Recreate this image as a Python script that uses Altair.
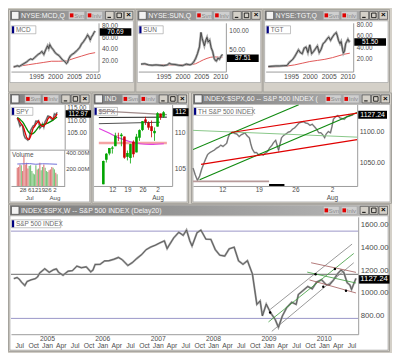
import altair as alt
import pandas as pd

# ============================ DATA ============================
# --- top row: long-term charts (x = year) ---
mcd_year = [1989.0, 1989.5, 1990.0, 1990.5, 1991.0, 1991.5, 1992.0, 1992.5, 1993.0, 1993.5, 1994.0, 1994.5,
            1995.0, 1995.5, 1996.0, 1996.5, 1997.0, 1997.5, 1998.0, 1998.3, 1998.6, 1999.0, 1999.5, 2000.0,
            2000.5, 2001.0, 2001.5, 2002.0, 2002.5, 2003.0, 2003.3, 2003.6, 2004.0, 2004.5, 2005.0, 2005.5,
            2006.0, 2006.5, 2007.0, 2007.5, 2008.0, 2008.3, 2008.6, 2009.0, 2009.3, 2009.6, 2010.0, 2010.3, 2010.6]
mcd_price = [8, 9, 10, 9, 11, 13, 15, 17, 20, 22, 21, 24, 27, 30, 32, 35, 30, 38, 45, 40, 47, 42, 38, 33,
             30, 28, 24, 20, 18, 14, 16, 22, 27, 30, 32, 35, 38, 42, 48, 52, 57, 60, 64, 60, 55, 60, 64, 68, 70.69]
mcd_ma_year = [1989, 1991, 1993, 1995, 1997, 1999, 2001, 2003, 2005, 2007, 2009, 2010.6]
mcd_ma = [8, 10, 12, 14, 16, 18, 18, 18.5, 23, 27, 31, 33]

sun_year = [1989, 1990, 1991, 1992, 1993, 1994, 1995, 1996, 1996.5, 1997, 1998, 1999, 2000, 2000.5, 2001,
            2001.5, 2002, 2002.5, 2003, 2003.5, 2004, 2004.5, 2004.9, 2005.2, 2005.5, 2005.8, 2006.2, 2006.5,
            2006.8, 2007.2, 2007.6, 2008.0, 2008.4, 2008.7, 2009.0, 2009.4, 2009.8, 2010.2, 2010.6]
sun_price = [12, 13, 10, 9, 10, 9, 8, 10, 14, 12, 11, 9, 8, 10, 12, 11, 10, 12, 18, 27, 40, 57, 95, 80, 70,
             60, 75, 82, 70, 75, 55, 45, 27, 22, 20, 28, 25, 32, 37.51]
sun_ma_year = [1989, 1992, 1995, 1998, 2001, 2002.5, 2003.5, 2004.5, 2005.5, 2006.5, 2007.5, 2008.5, 2009.5, 2010.6]
sun_ma = [11, 10, 10, 10, 10, 11, 13, 18, 23, 27, 30, 31, 30, 30]

tgt_year = [1989, 1990, 1991, 1992, 1993, 1994, 1994.5, 1995.5, 1996, 1997, 1997.5, 1998, 1998.5, 1999,
            1999.5, 2000, 2000.5, 2001, 2001.5, 2002, 2002.5, 2003, 2003.5, 2004, 2004.5, 2005, 2005.5, 2006,
            2006.5, 2007, 2007.3, 2007.6, 2008, 2008.3, 2008.7, 2008.9, 2009.2, 2009.5, 2009.8, 2010.1, 2010.4, 2010.6]
tgt_price = [5, 5.5, 6, 6, 6.5, 7, 12, 18, 23, 35, 30, 28, 38, 40, 30, 44, 28, 32, 37, 42, 30, 36, 46, 49,
             54, 58, 52, 58, 63, 66, 60, 52, 46, 50, 35, 29, 33, 46, 50, 54, 50, 51.5]
tgt_ma_year = [1989, 1992, 1994, 1996, 1998, 2000, 2002, 2004, 2006, 2008, 2009, 2010.6]
tgt_ma = [4.5, 5, 6, 8, 11, 14, 16, 18, 21, 25, 27, 29]

top_year_ticks = [1995, 2000, 2005, 2010]

# --- SPY daily (trading-day index, 0 = Jun 28 2010) ---
spy_day = [-4, -3, -2, -1, 0, 1, 2, 3, 4, 5, 6, 7, 8, 9, 10, 11, 12, 13, 14, 15, 16, 17, 18, 19, 20, 21, 22, 23, 24, 25, 26]
spy_close = [110.8, 109.5, 107.6, 108.3, 107.8, 104.2, 103.0, 102.6, 102.2, 102.8, 105.9, 106.9, 107.8, 107.9,
             109.6, 109.5, 109.8, 106.8, 107.4, 108.6, 107.2, 109.4, 110.3, 111.6, 111.5, 110.8, 110.2, 110.3,
             112.4, 112.0, 112.97]
spy_ma_red = [110.9, 110.2, 109.3, 108.5, 107.9, 106.7, 105.0, 103.3, 102.6, 102.5, 103.6, 105.2, 106.9, 107.5,
              108.4, 109.0, 109.6, 108.7, 107.9, 107.6, 107.7, 108.4, 109.0, 110.4, 111.1, 111.3, 110.8, 110.4,
              111.0, 111.5, 112.4]
spy_ma_green = [111.0, 110.7, 110.3, 109.8, 109.3, 108.5, 107.6, 106.7, 105.8, 105.1, 104.7, 104.6, 104.8, 105.3,
                105.9, 106.6, 107.3, 107.7, 108.0, 108.2, 108.3, 108.4, 108.6, 108.8, 109.1, 109.4, 109.7, 110.0,
                110.4, 110.8, 111.2]
spy_volume = [220, 230, 260, 250, 180, 370, 260, 280, 210, 240, 250, 180, 150, 140, 250, 200, 210, 280, 190,
              230, 260, 220, 180, 170, 190, 200, 230, 220, 200, 160, 140]
spy_dir = ["d", "d", "d", "u", "d", "d", "d", "d", "d", "u", "u", "u", "u", "u", "u", "d", "u", "d", "u",
           "u", "d", "u", "u", "u", "d", "d", "d", "u", "u", "d", "u"]
spy_vavg_day = [-4, 5, 10, 15, 20, 26]
spy_vavg = [265, 270, 262, 268, 266, 262]
spy_tick_days = [0, 5, 9, 14, 19, 24]
spy_tick_labels = ["28", "6", "12", "19", "26", "2"]

# --- $SPX daily candles (trading-day index, 0 = Jul 12 2010) ---
spxd_day = [-3, -2, -1, 0, 1, 2, 3, 4, 5, 6, 7, 8, 9, 10, 11, 12, 13, 14, 15, 16, 17]
spxd_open = [1028.5, 1062.0, 1070.5, 1077.2, 1080.6, 1095.6, 1094.5, 1093.9, 1066.0, 1064.5, 1086.7, 1072.1,
             1092.2, 1102.9, 1117.4, 1112.8, 1108.1, 1098.4, 1107.5, 1125.3, 1121.1]
spxd_high = [1060.9, 1071.3, 1078.2, 1080.8, 1099.1, 1099.1, 1098.7, 1093.9, 1074.7, 1083.9, 1088.5, 1097.5,
             1103.7, 1115.0, 1120.9, 1114.7, 1115.9, 1106.4, 1127.3, 1125.4, 1128.8]
spxd_low = [1028.3, 1058.2, 1068.1, 1070.5, 1080.6, 1087.7, 1080.5, 1063.3, 1061.1, 1056.9, 1065.3, 1072.1,
            1087.9, 1101.3, 1109.8, 1103.1, 1092.8, 1088.0, 1107.5, 1116.8, 1119.5]
spxd_close = [1060.3, 1070.3, 1078.0, 1078.8, 1095.3, 1095.2, 1096.5, 1064.9, 1071.3, 1083.5, 1069.6, 1093.7,
              1102.7, 1115.0, 1113.8, 1106.1, 1101.5, 1101.6, 1125.9, 1120.5, 1127.2]
spxd_ma_day = [-4.4, -1.3, 2.2, 5.7, 9.2, 12.7, 17.1]
spxd_ma = [1105, 1099, 1092, 1087, 1084, 1083, 1084]
spxd_seg_kind = ["brown", "black", "dgray", "salmon"]
spxd_seg_t0 = [-4.5, -4.5, -4.5, -4.5]
spxd_seg_v0 = [1129, 1120, 1111.5, 1085]
spxd_seg_t1 = [18.1, 18.1, 15.8, 18.1]
spxd_seg_v1 = [1124, 1120.5, 1113.5, 1085]
day_tick_days = [0, 5, 10, 15]
day_tick_labels = ["12", "19", "26", "2"]

# --- $SPX 60-minute (trading days since Jul 12 2010) ---
spx60_t = [-4.0, -3.7, -3.4, -3.1, -2.8, -2.6, -2.3, -2.0, -1.7, -1.4, -1.1, -0.8, -0.5, -0.2,
           0.1, 0.4, 0.6, 0.8, 1.0, 1.2, 1.4, 1.7, 2.0, 2.3, 2.6, 2.8, 3.1, 3.4, 3.7, 3.9,
           4.1, 4.4, 4.7, 5.0, 5.3, 5.6, 5.9, 6.2, 6.5, 6.8, 7.0, 7.3, 7.5, 7.7, 7.9,
           8.1, 8.4, 8.7, 9.0, 9.3, 9.6, 9.9, 10.2, 10.5, 10.8, 11.1, 11.4, 11.7,
           12.0, 12.3, 12.6, 12.9, 13.2, 13.5, 13.8, 14.0, 14.2, 14.5, 14.8,
           15.0, 15.2, 15.5, 15.8, 16.1, 16.4, 16.7, 17.0, 17.3, 17.6, 17.9]
spx60_v = [1041, 1030, 1021, 1028, 1040, 1046, 1055, 1063, 1066, 1068, 1070, 1073, 1075, 1078,
           1076, 1079, 1081, 1090, 1096, 1098, 1099, 1097, 1096, 1092, 1095, 1096, 1098, 1093, 1090, 1080,
           1072, 1066, 1066, 1062, 1064, 1062, 1065, 1068, 1074, 1078, 1082, 1086, 1078, 1070, 1080,
           1090, 1094, 1096, 1099, 1100, 1104, 1106, 1110, 1114, 1115, 1116, 1114, 1113,
           1110, 1112, 1108, 1104, 1098, 1098, 1094, 1090, 1096, 1100, 1098,
           1108, 1120, 1124, 1126, 1122, 1121, 1120, 1124, 1125, 1126, 1127.24]
h_seg_kind = ["green", "green", "ltgreen", "red", "red", "mauve", "black"]
h_seg_t0 = [-4.0, -3.1, -4.0, 1.2, -2.9, -4.0, 6.4]
h_seg_v0 = [1071, 1022, 1102, 1098.5, 1047, 1019.5, 1013.5]
h_seg_t1 = [10.45, 18.45, 18.45, 18.45, 18.45, 6.4, 8.5]
h_seg_v1 = [1143.5, 1131, 1091, 1130, 1087, 1019.5, 1013.5]

# --- $SPX weekly (x = year) ---
spxw_t = [2004.40, 2004.46, 2004.50, 2004.54, 2004.60, 2004.64, 2004.71, 2004.79, 2004.83, 2004.87, 2004.96,
          2005.04, 2005.12, 2005.17, 2005.21, 2005.29, 2005.38, 2005.46, 2005.54, 2005.62, 2005.71, 2005.79,
          2005.83, 2005.87, 2005.96, 2006.04, 2006.12, 2006.21, 2006.29, 2006.36, 2006.46, 2006.54, 2006.62,
          2006.71, 2006.79, 2006.87, 2006.96, 2007.04, 2007.12, 2007.17, 2007.21, 2007.29, 2007.38, 2007.46,
          2007.52, 2007.58, 2007.62, 2007.71, 2007.78, 2007.87, 2007.96, 2008.04, 2008.12, 2008.21, 2008.29,
          2008.38, 2008.46, 2008.54, 2008.62, 2008.71, 2008.76, 2008.79, 2008.85, 2008.89, 2008.96, 2009.04,
          2009.12, 2009.18, 2009.25, 2009.33, 2009.42, 2009.50, 2009.54, 2009.62, 2009.71, 2009.79, 2009.87,
          2009.96, 2010.04, 2010.10, 2010.17, 2010.25, 2010.31, 2010.36, 2010.42, 2010.47, 2010.50, 2010.54, 2010.58]
spxw_v = [1125, 1135, 1120, 1095, 1065, 1100, 1114, 1125, 1140, 1175, 1212,
          1180, 1203, 1210, 1180, 1155, 1190, 1195, 1234, 1220, 1228, 1185,
          1200, 1249, 1250, 1280, 1282, 1295, 1310, 1290, 1240, 1265, 1300,
          1335, 1378, 1400, 1418, 1438, 1455, 1387, 1420, 1482, 1530, 1503,
          1550, 1455, 1410, 1526, 1549, 1470, 1468, 1378, 1330, 1322, 1385,
          1400, 1280, 1250, 1282, 1166, 1000, 900, 930, 800, 903, 826,
          770, 700, 798, 873, 919, 900, 987, 1020, 1057, 1036, 1096,
          1115, 1073, 1070, 1110, 1169, 1200, 1180, 1090, 1070, 1030, 1080, 1127.24]
wk_level_kind = ["lav", "gray", "lav"]
wk_level_v = [1540, 1163, 778]
wk_seg_kind = ["gray", "green", "gray", "maroon", "green", "maroon"]
wk_seg_t0 = [2009.03, 2009.00, 2009.06, 2009.77, 2009.70, 2009.74]
wk_seg_v0 = [856, 747, 665, 1264, 1182, 1114]
wk_seg_t1 = [2010.51, 2010.54, 2010.54, 2010.58, 2010.58, 2010.58]
wk_seg_v1 = [1427, 1345, 1264, 1180, 1087, 1000]
wk_dot_t = [2009.03, 2009.85, 2009.99, 2010.20, 2010.40]
wk_dot_v = [829, 1163, 1055, 1210, 1019]
wk_ticks = [2004.5, 2004.75, 2005.0, 2005.25, 2005.5, 2005.75, 2006.0, 2006.25, 2006.5, 2006.75,
            2007.0, 2007.25, 2007.5, 2007.75, 2008.0, 2008.25, 2008.5, 2008.75, 2009.0, 2009.25,
            2009.5, 2009.75, 2010.0, 2010.25, 2010.5]
month_names = ["Jan", "Apr", "Jul", "Oct"]

# ============================ STYLE ============================
FONT = "Liberation Sans"
FRAME = "#d4d0c8"
LBL = "#4c4c4c"
ONE = pd.DataFrame({"k": [0]})
TITLE_GRAD = {"gradient": "linear", "x1": 0, "x2": 1, "y1": 0, "y2": 0,
              "stops": [{"offset": 0, "color": "#7c7c7c"}, {"offset": 1, "color": "#b8b8b8"}]}
AXIS = dict(grid=False, ticks=False, domainColor="#9c9c9c", domainWidth=1, labelFont=FONT,
            labelColor=LBL, labelOverlap=False, labelFlush=False, zindex=1, title=None)


def js_list(items):
    return "[" + ",".join(f"'{s}'" if isinstance(s, str) else str(s) for s in items) + "]"


def frame_layers(W, H, L, T, R, B, title, legend, legend_w, white_pad):
    b = alt.Chart(ONE)
    x0, y0, x1, y1 = -L, -T, W + R, H + B
    out = []

    def rect(xa, xb, ya, yb, **kw):
        out.append(b.mark_rect(**kw).encode(x=alt.value(xa), x2=alt.value(xb),
                                            y=alt.value(ya), y2=alt.value(yb)))

    def label(xa, ya, s, size, color, align="left", weight="normal", limit=0):
        kw = dict(text=s, font=FONT, fontSize=size, color=color, align=align,
                  baseline="middle", fontWeight=weight)
        if limit:
            kw["limit"] = limit
            kw["ellipsis"] = " "
        out.append(b.mark_text(**kw).encode(x=alt.value(xa), y=alt.value(ya)))

    rect(x0 + 0.5, x1 - 0.5, y0 + 0.5, y1 - 0.5, fill=FRAME, stroke="#a4a29c", strokeWidth=1)
    rect(x0 + 2, x1 - 2, y0 + 12, H + white_pad, fill="white", stroke="#9a9a9a", strokeWidth=0.6)
    rect(x0 + 2, x1 - 2, y0 + 1.5, y0 + 11.5, fill=TITLE_GRAD)
    rect(x0 + 3.5, x0 + 11, y0 + 2.5, y0 + 10.5, fill="#f2f2f2", stroke="#3a3a3a", strokeWidth=0.6)
    buttons = [(x1 - 67, x1 - 51, "Svn"), (x1 - 49, x1 - 33, "Inlv")]
    buttons = [bt for bt in buttons if bt[0] >= x0 + 17]
    first_button = buttons[0][0] if buttons else x1 - 30
    label(x0 + 13, y0 + 6.8, title, 7, "#f6f6f6", limit=first_button - (x0 + 13) - 1)
    for bx0, bx1, s in buttons:
        rect(bx0, bx1, y0 + 2.5, y0 + 10.5, fill="#cfcfcf", stroke="#a0a0a0", strokeWidth=0.5)
        rect(bx0 + 1.2, bx0 + 4.8, y0 + 4.5, y0 + 8.5, fill="#e00000")
        label(bx0 + 5.5, y0 + 6.8, s, 6, "#8a8a8a")
    for bx0, kind in [(x1 - 30, "min"), (x1 - 20.5, "max"), (x1 - 11, "close")]:
        rect(bx0, bx0 + 8.5, y0 + 2.5, y0 + 10.5, fill=FRAME, stroke="#404040", strokeWidth=0.6)
        if kind == "min":
            rect(bx0 + 2, bx0 + 5.5, y0 + 8, y0 + 9, fill="black")
        elif kind == "max":
            rect(bx0 + 2, bx0 + 6.5, y0 + 4.2, y0 + 8.8, fill="white", fillOpacity=0,
                 stroke="black", strokeWidth=0.8)
        else:
            label(bx0 + 4.25, y0 + 6.5, "×", 8, "black", align="center", weight="bold")
    rect(0.5, legend_w, 3, 11, fill="white", stroke="#9a9a9a", strokeWidth=0.6)
    rect(1, 3.2, 3.5, 10.5, fill="#000080")
    label(5, 7.2, legend, 6.5, "#6a6a6a")
    return out


def last_box(value_df, Y, xc, width, size, fmt=None, textfield=None, dy=0, thick=8):
    box = alt.Chart(value_df).mark_tick(color="black", thickness=thick, size=width, orient="horizontal",
                                        opacity=1, yOffset=dy).encode(x=alt.value(xc), y=Y)
    t = alt.Text(textfield) if textfield else alt.Text("v:Q", format=fmt)
    txt = alt.Chart(value_df).mark_text(color="white", font=FONT, fontSize=size, align="center",
                                        baseline="middle", yOffset=dy).encode(x=alt.value(xc), y=Y, text=t)
    return [box, txt]


# ============================ TOP ROW ============================
def long_panel(years, price, ma_years, ma, ydom, yvals, legend, title, dy):
    W, H, L, T = 88, 49, 3, 14
    R, B = 128 - L - W, 84 - T - H
    xs = alt.Scale(domain=[1988.3, 2011.5], nice=False, zero=False)
    ys = alt.Scale(domain=ydom, nice=False, zero=False)
    X = alt.X("t:Q", scale=xs, axis=alt.Axis(values=top_year_ticks, format="d", labelFontSize=6.8,
                                             labelPadding=2, **AXIS))
    Y = alt.Y("v:Q", scale=ys, axis=alt.Axis(values=yvals, format=".2f", orient="right", labelFontSize=6.4,
                                             labelPadding=3, **AXIS))
    pdf = pd.DataFrame({"t": years, "v": price})
    mdf = pd.DataFrame({"t": ma_years, "v": ma})
    last = pd.DataFrame({"v": [price[-1]]})
    layers = frame_layers(W, H, L, T, R, B, title, legend, 25, 11)
    layers += [
        alt.Chart(mdf).mark_line(color="#e05858", strokeWidth=1).encode(X, Y),
        alt.Chart(pdf).mark_line(color="#a8a8a8", strokeWidth=2.4).encode(X, Y),
        alt.Chart(pdf).mark_line(color="#262626", strokeWidth=0.7).encode(X, Y),
    ]
    layers += last_box(last, Y, W + 17, 32, 6.5, fmt=".2f", dy=dy, thick=7.5)
    return alt.layer(*layers).properties(width=W, height=H)


mcd = long_panel(mcd_year, mcd_price, mcd_ma_year, mcd_ma, [0, 85], [20, 40, 60, 80], "MCD",
                 "NYSE:MCD,Q -- M", 1.0)
sun = long_panel(sun_year, sun_price, sun_ma_year, sun_ma, [-7.5, 120], [50, 100], "SUN",
                 "NYSE:SUN,Q -- S", 4)
tgt = long_panel(tgt_year, tgt_price, tgt_ma_year, tgt_ma, [-4, 83.5], [20, 40, 60, 80], "TGT",
                 "NYSE:TGT,Q -- T", 1.3)


# ============================ SPY ============================
def spy_panel():
    W, H, L, T = 54, 82, 3, 12
    R, B = 84 - L - W, 112 - T - H
    xs = alt.Scale(domain=[-5, 28], nice=False, zero=False)
    expr = (f"[{js_list(spy_tick_labels)}[indexof({js_list(spy_tick_days)}, datum.value)], "
            "datum.value == 5 ? 'Jul' : (datum.value == 24 ? 'Aug' : '')]")
    xa = alt.Axis(values=spy_tick_days, labelExpr=expr, labelFontSize=6.2, labelLineHeight=7.5,
                  labelPadding=1, **AXIS)
    X = alt.X("d:Q", scale=xs, axis=xa)
    ps = alt.Scale(domain=[98.7, 116.1], range=[45, 0], nice=False, zero=False)
    Yp = alt.Y("v:Q", scale=ps, axis=alt.Axis(values=[105, 110, 115], format=".2f", orient="right",
                                               labelFontSize=6.5, labelPadding=2, **AXIS))
    vs = alt.Scale(domain=[0, 420], range=[82, 47], nice=False, zero=False)
    Yv = alt.Y("vol:Q", scale=vs, axis=None)

    cdf = pd.DataFrame({"d": spy_day, "v": spy_close})
    rdf = pd.DataFrame({"d": spy_day, "v": spy_ma_red})
    gdf = pd.DataFrame({"d": spy_day, "v": spy_ma_green})
    vdf = pd.DataFrame({"d": spy_day, "vol": spy_volume, "dir": spy_dir})
    adf = pd.DataFrame({"d": spy_vavg_day, "vol": spy_vavg})
    ldf = pd.DataFrame({"vol": [400, 200], "lab": ["400.00M", "200.00M"]})
    last = pd.DataFrame({"v": [spy_close[-1]]})

    price_grp = alt.layer(
        alt.Chart(cdf).mark_line(color="#a0a0a0", strokeWidth=1.8).encode(X, Yp),
        alt.Chart(cdf).mark_line(color="#303030", strokeWidth=0.6).encode(X, Yp),
        alt.Chart(gdf).mark_line(color="#008a00", strokeWidth=1.3).encode(X, Yp),
        alt.Chart(rdf).mark_line(color="#e00000", strokeWidth=1.3).encode(X, Yp),
        *last_box(last, Yp, W + 13.5, 26, 6.5, fmt=".2f", dy=1.5, thick=7.5),
    )
    vol_grp = alt.layer(
        alt.Chart(vdf[vdf["dir"] == "u"]).mark_bar(width=1.2, color="#7cc47c").encode(X, Yv),
        alt.Chart(vdf[vdf["dir"] == "d"]).mark_bar(width=1.2, color="#e08080").encode(X, Yv),
        alt.Chart(adf).mark_line(color="#7070d8", strokeWidth=1).encode(X, Yv),
        alt.Chart(ldf).mark_text(align="left", baseline="middle", font=FONT, fontSize=6,
                                 color=LBL).encode(x=alt.value(W + 1.5), y=Yv, text="lab:N"),
    )
    b = alt.Chart(ONE)
    extra = [
        b.mark_rule(color="#9c9c9c").encode(x=alt.value(-L + 2), x2=alt.value(W + R - 2), y=alt.value(46)),
        b.mark_rule(color="#9c9c9c").encode(x=alt.value(W), y=alt.value(46), y2=alt.value(H)),
        b.mark_text(text="Volume", font=FONT, fontSize=6.5, color="#555", align="left",
                    baseline="middle").encode(x=alt.value(1), y=alt.value(51)),
    ]
    layers = frame_layers(W, H, L, T, R, B, "AMEX:SPY,D", "SPY", 22, 16) + extra
    return alt.layer(*layers, price_grp, vol_grp).resolve_scale(y="independent").properties(width=W, height=H)


# ============================ $SPX daily ============================
def day_axis(size):
    expr = (f"[{js_list(day_tick_labels)}[indexof({js_list(day_tick_days)}, datum.value)], "
            "datum.value == 15 ? 'Aug' : '']")
    return alt.Axis(values=day_tick_days, labelExpr=expr, labelFontSize=size, labelLineHeight=7.5,
                    labelPadding=1, **AXIS)


def spxd_panel():
    W, H, L, T = 79, 82, 2, 12
    R, B = 98 - L - W, 112 - T - H
    xs = alt.Scale(domain=[-4.6, 18.2], nice=False, zero=False)
    ys = alt.Scale(domain=[1026, 1138], nice=False, zero=False)
    xa = day_axis(6.5)
    ya = alt.Axis(values=[1050, 1100], labelExpr="substring(format(datum.value, '.2f'), 0, 3)",
                  orient="right", labelFontSize=6.8, labelPadding=2, **AXIS)
    cd = pd.DataFrame({"d": spxd_day, "o": spxd_open, "h": spxd_high, "l": spxd_low, "c": spxd_close})
    up = cd[cd["c"] >= cd["o"]]
    dn = cd[cd["c"] < cd["o"]]
    seg = pd.DataFrame({"k": spxd_seg_kind, "t0": spxd_seg_t0, "v0": spxd_seg_v0,
                        "t1": spxd_seg_t1, "v1": spxd_seg_v1})
    ma = pd.DataFrame({"d": spxd_ma_day, "v": spxd_ma})
    styles = {"brown": ("#a08a8a", 1.2), "black": ("#202020", 1.0), "dgray": ("#505050", 1.0),
              "salmon": ("#f4a4a4", 2.6)}
    layers = frame_layers(W, H, L, T, R, B, "INDEX:$SPX,D", "$SPX", 24, 16)
    for k, (col, w) in styles.items():
        layers.append(alt.Chart(seg[seg["k"] == k]).mark_rule(color=col, strokeWidth=w).encode(
            x=alt.X("t0:Q", scale=xs, axis=xa), x2="t1:Q",
            y=alt.Y("v0:Q", scale=ys, axis=ya), y2="v1:Q"))
    layers.append(alt.Chart(ma).mark_line(color="#e040e0", strokeWidth=1.2, interpolate="monotone").encode(
        x=alt.X("d:Q", scale=xs, axis=xa), y=alt.Y("v:Q", scale=ys, axis=ya)))
    for df, col in ((up, "#00a400"), (dn, "#c80000")):
        layers.append(alt.Chart(df).mark_rule(color=col, strokeWidth=0.8).encode(
            x=alt.X("d:Q", scale=xs, axis=xa), y=alt.Y("l:Q", scale=ys, axis=ya), y2="h:Q"))
        layers.append(alt.Chart(df).mark_bar(width=2.6, color=col).encode(
            x=alt.X("d:Q", scale=xs, axis=xa), y=alt.Y("o:Q", scale=ys, axis=ya), y2="c:Q"))
    last = pd.DataFrame({"v": [spx60_v[-1]], "lab": ["112"]})
    layers += last_box(last, alt.Y("v:Q", scale=ys, axis=ya), W + 8.5, 16, 6.8, textfield="lab:N")
    return alt.layer(*layers).properties(width=W, height=H)


# ============================ $SPX 60 min ============================
def spx60_panel():
    W, H, L, T = 165, 82, 2, 12
    R, B = 202 - L - W, 112 - T - H
    xs = alt.Scale(domain=[-4.0, 18.45], nice=False, zero=False)
    ys = alt.Scale(domain=[1012, 1144], nice=False, zero=False)
    xa = day_axis(6.5)
    ya = alt.Axis(values=[1050, 1100], format=".2f", orient="right", labelFontSize=7, labelPadding=2, **AXIS)
    seg = pd.DataFrame({"k": h_seg_kind, "t0": h_seg_t0, "v0": h_seg_v0, "t1": h_seg_t1, "v1": h_seg_v1})
    pdf = pd.DataFrame({"t": spx60_t, "v": spx60_v})
    styles = {"ltgreen": ("#88c888", 1.0), "mauve": ("#b89a9a", 1.6), "black": ("#000000", 2.0),
              "green": ("#108a10", 1.2), "red": ("#e00000", 1.2)}
    layers = frame_layers(W, H, L, T, R, B, "INDEX:$SPX,60 -- S&P 500 INDEX (Delay2",
                          "TH   S&P 500 INDEX", 60, 16)
    layers.append(alt.Chart(pdf).mark_line(color="#a4a4a4", strokeWidth=1.6).encode(
        x=alt.X("t:Q", scale=xs, axis=xa), y=alt.Y("v:Q", scale=ys, axis=ya)))
    layers.append(alt.Chart(pdf).mark_line(color="#404040", strokeWidth=0.5).encode(
        x=alt.X("t:Q", scale=xs, axis=xa), y=alt.Y("v:Q", scale=ys, axis=ya)))
    for k, (col, w) in styles.items():
        layers.append(alt.Chart(seg[seg["k"] == k]).mark_rule(color=col, strokeWidth=w, clip=True).encode(
            x=alt.X("t0:Q", scale=xs, axis=xa), x2="t1:Q",
            y=alt.Y("v0:Q", scale=ys, axis=ya), y2="v1:Q"))
    last = pd.DataFrame({"v": [spx60_v[-1]]})
    layers += last_box(last, alt.Y("v:Q", scale=ys, axis=ya), W + 15.5, 29, 7, fmt=".2f")
    return alt.layer(*layers).properties(width=W, height=H)


# ============================ $SPX weekly ============================
def weekly_panel():
    W, H, L, T = 349, 118, 3, 13
    R, B = 384 - L - W, 149 - T - H
    xs = alt.Scale(domain=[2004.35, 2010.62], nice=False, zero=False)
    ys = alt.Scale(domain=[640, 1665], nice=False, zero=False)
    expr = ("[(datum.value % 1 == 0) ? format(datum.value, 'd') : '', "
            f"{js_list(month_names)}[round((datum.value % 1) * 4)]]")
    xa = alt.Axis(values=wk_ticks, labelExpr=expr, labelFontSize=6.8, labelLineHeight=7,
                  labelPadding=1, **AXIS)
    ya = alt.Axis(values=[800, 1000, 1200, 1400, 1600], format=".2f", orient="right", labelFontSize=7.8,
                  labelPadding=2, **AXIS)
    Y = alt.Y("v:Q", scale=ys, axis=ya)
    pdf = pd.DataFrame({"t": spxw_t, "v": spxw_v})
    lev = pd.DataFrame({"k": wk_level_kind, "v": wk_level_v})
    seg = pd.DataFrame({"k": wk_seg_kind, "t0": wk_seg_t0, "v0": wk_seg_v0, "t1": wk_seg_t1, "v1": wk_seg_v1})
    dots = pd.DataFrame({"t": wk_dot_t, "v": wk_dot_v})
    layers = frame_layers(W, H, L, T, R, B, "INDEX:$SPX,W -- S&P 500 INDEX (Delay20)", "S&P 500 INDEX", 50, 16)
    for k, col in (("lav", "#9a96c8"), ("gray", "#6a6a6a")):
        layers.append(alt.Chart(lev[lev["k"] == k]).mark_rule(color=col, strokeWidth=1).encode(y=Y))
    layers.append(alt.Chart(pdf).mark_line(color="#9c9c9c", strokeWidth=2.0).encode(
        x=alt.X("t:Q", scale=xs, axis=xa), y=Y))
    layers.append(alt.Chart(pdf).mark_line(color="#3a3a3a", strokeWidth=0.6).encode(
        x=alt.X("t:Q", scale=xs, axis=xa), y=Y))
    for k, col in (("gray", "#808080"), ("green", "#3a9a3a"), ("maroon", "#a05858")):
        layers.append(alt.Chart(seg[seg["k"] == k]).mark_rule(color=col, strokeWidth=0.8, clip=True).encode(
            x=alt.X("t0:Q", scale=xs, axis=xa), x2="t1:Q",
            y=alt.Y("v0:Q", scale=ys, axis=ya), y2="v1:Q"))
    layers.append(alt.Chart(dots).mark_circle(color="black", size=6, opacity=1).encode(
        x=alt.X("t:Q", scale=xs, axis=xa), y=Y))
    last = pd.DataFrame({"v": [spxw_v[-1]]})
    layers += last_box(last, Y, W + 16, 31, 7.8, fmt=".2f", dy=1, thick=8.5)
    return alt.layer(*layers).properties(width=W, height=H)


row1 = alt.hconcat(mcd, sun, tgt, spacing=0)
row2 = alt.hconcat(spy_panel(), spxd_panel(), spx60_panel(), spacing=0)
chart = alt.vconcat(row1, row2, weekly_panel(), spacing=0).properties(padding=0, background=FRAME)
chart = chart.configure_view(strokeWidth=0)

chart.save("out.html", embed_options={"renderer": "svg", "actions": False})
